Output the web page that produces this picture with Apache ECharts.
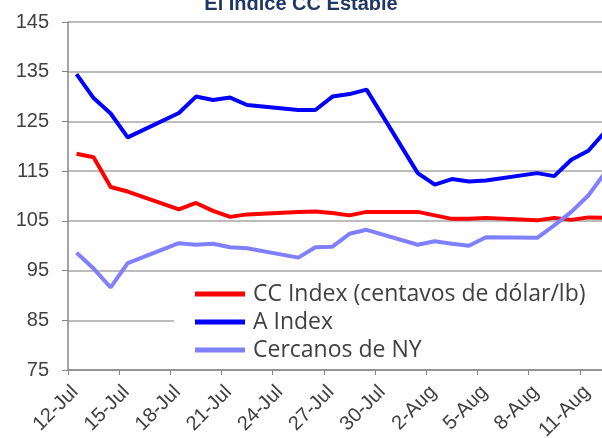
<!DOCTYPE html>
<html>
<head>
<meta charset="utf-8">
<script src="https://cdn.jsdelivr.net/npm/echarts@6/dist/echarts.min.js"></script>
<style>
  html, body { margin: 0; padding: 0; background: #fff; }
  #main { width: 602px; height: 438px; }
</style>
</head>
<body>
<div id="main"></div>
<script>
// trading days (2011)
var dates = ['2011-07-12', '2011-07-13', '2011-07-14', '2011-07-15',
  '2011-07-18', '2011-07-19', '2011-07-20', '2011-07-21', '2011-07-22',
  '2011-07-25', '2011-07-26', '2011-07-27', '2011-07-28', '2011-07-29',
  '2011-08-01', '2011-08-02', '2011-08-03', '2011-08-04', '2011-08-05',
  '2011-08-08', '2011-08-09', '2011-08-10', '2011-08-11', '2011-08-12'];
var ccIndex = [118.5, 117.8, 111.8, 110.9, 107.3, 108.6, 107.0, 105.8, 106.3,
  106.8, 106.9, 106.6, 106.1, 106.8, 106.8, 106.1, 105.4, 105.4, 105.6,
  105.1, 105.6, 105.2, 105.7, 105.6];
var aIndex = [134.5, 129.7, 126.6, 121.8, 126.7, 130.0, 129.3, 129.8, 128.3,
  127.3, 127.3, 130.0, 130.5, 131.4, 114.6, 112.3, 113.4, 112.9, 113.1,
  114.6, 114.0, 117.3, 119.1, 123.0];
var nyNearby = [98.6, 95.4, 91.6, 96.5, 100.5, 100.2, 100.4, 99.7, 99.5,
  97.6, 99.7, 99.8, 102.4, 103.2, 100.2, 100.9, 100.4, 100.0, 101.7,
  101.6, 104.1, 106.8, 110.1, 114.8];
var seriesNames = ['CC Index (centavos de dólar/lb)', 'A Index', 'Cercanos de NY'];
var months = ['Jan', 'Feb', 'Mar', 'Apr', 'May', 'Jun', 'Jul', 'Aug', 'Sep', 'Oct', 'Nov', 'Dec'];

var startDay = Date.UTC(2011, 6, 12);
var DAY = 86400000;

// día desde 12-Jul, punto en el centro del día
function dayPos(s) {
  var p = s.split('-');
  return (Date.UTC(+p[0], +p[1] - 1, +p[2]) - startDay) / DAY + 0.5;
}
function toPairs(vals) {
  return dates.map(function (d, i) { return [dayPos(d), vals[i]]; });
}

var chart = echarts.init(document.getElementById('main'));
var gray = '#A6A6A6';
var option = {
  animation: false,
  title: {
    text: 'El Índice CC Estable',
    left: 'center',
    top: -6,
    padding: 0,
    textStyle: { fontFamily: 'Liberation Sans', fontSize: 20, fontWeight: 'bold', color: '#1F3864' }
  },
  legend: {
    orient: 'vertical',
    left: 174,
    top: 276,
    itemGap: 0,
    itemWidth: 50,
    itemHeight: 5,
    icon: 'rect',
    padding: [4, 24, 2, 21],
    backgroundColor: '#fff',
    data: seriesNames,
    textStyle: { fontFamily: 'Open Sans', fontSize: 23, color: '#404040', lineHeight: 28, padding: [0, 0, 0, 3] }
  },
  grid: {
    left: 68,
    top: 22,
    bottom: 68,
    right: -29,
    containLabel: false,
    outerBoundsMode: 'none'
  },
  xAxis: {
    type: 'value',
    min: 0,
    max: 33,
    interval: 3,
    axisLine: { lineStyle: { color: '#868686', width: 1.5 } },
    axisTick: { show: true, length: 5, lineStyle: { color: '#868686' } },
    splitLine: { show: false },
    axisLabel: {
      rotate: 45,
      margin: 12,
      verticalAlign: 'top',
      showMaxLabel: false,
      hideOverlap: false,
      fontFamily: 'Liberation Sans',
      fontSize: 20,
      color: '#404040',
      formatter: function (v) {
        var d = new Date(startDay + v * DAY);
        return d.getUTCDate() + '-' + months[d.getUTCMonth()];
      }
    }
  },
  yAxis: {
    type: 'value',
    min: 75,
    max: 145,
    interval: 10,
    axisLine: { show: true, lineStyle: { color: '#868686', width: 1.5 } },
    axisTick: { show: true, length: 6, lineStyle: { color: '#868686' } },
    splitLine: { lineStyle: { color: gray, width: 1.5 } },
    axisLabel: { margin: 19, fontFamily: 'Liberation Sans', fontSize: 20, color: '#404040' }
  },
  series: [
    { name: seriesNames[0], type: 'line', symbol: 'none', data: toPairs(ccIndex),
      itemStyle: { color: '#FF0000' }, lineStyle: { color: '#FF0000', width: 4 } },
    { name: seriesNames[1], type: 'line', symbol: 'none', data: toPairs(aIndex),
      itemStyle: { color: '#0000FF' }, lineStyle: { color: '#0000FF', width: 4 } },
    { name: seriesNames[2], type: 'line', symbol: 'none', data: toPairs(nyNearby),
      itemStyle: { color: '#8080FF' }, lineStyle: { color: '#8080FF', width: 4 } }
  ]
};
chart.setOption(option);
</script>
</body>
</html>
